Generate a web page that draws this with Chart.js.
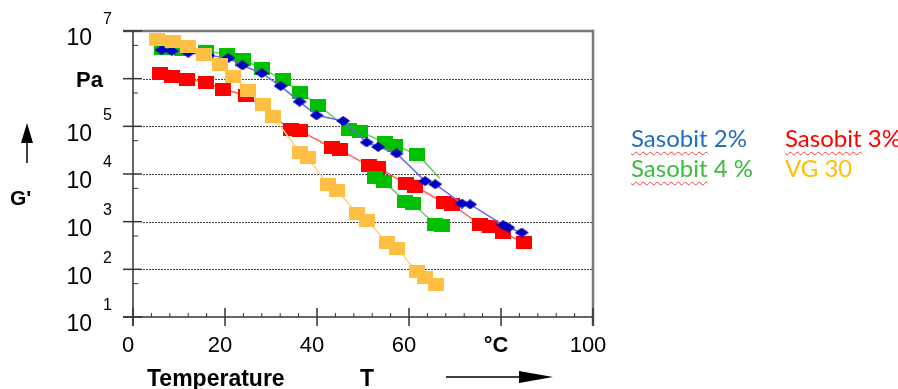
<!DOCTYPE html>
<html>
<head>
<meta charset="utf-8">
<script src="https://cdn.jsdelivr.net/npm/chart.js@4"></script>
<style>
  body { margin: 0; background: #fff; }
  #wrap { position: relative; width: 898px; height: 389px; overflow: hidden; }
  .ax { position: absolute; font-family: "Liberation Sans", Arial, sans-serif; font-weight: bold; line-height: 1; color: #000; white-space: nowrap; }
  .leg { position: absolute; font-family: Lato, "Open Sans", sans-serif; font-size: 24px; line-height: 24px; white-space: nowrap; }
  .sp { text-decoration: underline wavy #e8413c; text-decoration-thickness: 1px; text-underline-offset: 4px; text-decoration-skip-ink: none; }
</style>
</head>
<body>
<div id="wrap">
  <canvas id="chart" width="898" height="389"></canvas>
  <div class="ax" style="left:10px; top:187px; font-size:21px;">G'</div>
  <div class="ax" style="left:147px; top:367px; font-size:23px;">Temperature</div>
  <div class="ax" style="left:360px; top:367px; font-size:23px;">T</div>
  <svg style="position:absolute;left:0;top:0" width="898" height="389">
    <line x1="27" y1="163" x2="27" y2="140" stroke="#000" stroke-width="1.5"/>
    <polygon points="21,143 27,123 33,143" fill="#000"/>
    <line x1="446" y1="377" x2="522" y2="377" stroke="#000" stroke-width="1.5"/>
    <polygon points="519,371 553,377 519,383" fill="#000"/>
  </svg>
  <div class="leg" style="left:631px; top:126px; color:#1f6fc0;"><span class="sp">Sasobit</span> 2%</div>
  <div class="leg" style="left:785px; top:126px; color:#ff0000;"><span class="sp">Sasobit</span> 3%</div>
  <div class="leg" style="left:631px; top:156px; color:#3cbb3c;"><span class="sp">Sasobit</span> 4 %</div>
  <div class="leg" style="left:785px; top:156px; color:#ffc000;">VG 30</div>
</div>
<script>
// temperature (°C) and G' (Pa)
var blueT = [6.2, 8.4, 12.0, 16.3, 20.7, 23.8, 28.0, 32.1, 36.2, 39.9, 45.7, 50.8, 53.3, 57.3, 63.5, 65.7, 71.5, 73.3, 80.5, 81.6, 84.5];
var blueG = [4.0e6, 3.8e6, 3.5e6, 3.1e6, 2.7e6, 1.9e6, 1.3e6, 7.0e5, 3.3e5, 1.7e5, 1.3e5, 4.6e4, 3.7e4, 2.7e4, 7.1e3, 6.1e3, 2.4e3, 2.3e3, 850, 750, 590];

var redT = [5.9, 8.4, 11.8, 15.8, 19.6, 24.6, 34.3, 36.3, 43.2, 45.0, 51.2, 53.3, 59.3, 61.3, 67.5, 69.3, 75.4, 77.6, 80.5, 85.0];
var redG = [1.3e6, 1.1e6, 9.8e5, 8.2e5, 6.0e5, 4.5e5, 8.4e4, 8.0e4, 3.6e4, 3.2e4, 1.5e4, 1.37e4, 6.2e3, 5.6e3, 2.5e3, 2.3e3, 880, 790, 590, 360];

var greenT = [6.4, 10.7, 15.8, 20.5, 24.0, 28.1, 32.5, 36.4, 40.3, 47.0, 49.3, 54.8, 57.0, 61.8, 66.7];
var greenG = [4.3e6, 4.0e6, 3.75e6, 3.25e6, 2.5e6, 1.6e6, 9.7e5, 5.1e5, 2.8e5, 8.4e4, 7.7e4, 4.6e4, 3.9e4, 2.6e4, 8.1e3];
var green2T = [52.6, 54.6, 59.1, 60.8, 65.7, 67.1];
var green2G = [8.4e3, 6.9e3, 2.7e3, 2.4e3, 880, 820];

var vgT = [5.2, 8.8, 12.0, 15.4, 18.9, 21.8, 24.9, 28.2, 30.5, 36.3, 38.0, 42.4, 44.3, 48.7, 50.9, 55.2, 57.4, 61.7, 63.5, 65.9];
var vgG = [6.7e6, 6.0e6, 4.7e6, 3.25e6, 2.0e6, 1.1e6, 5.6e5, 2.9e5, 1.6e5, 2.8e4, 2.2e4, 5.9e3, 4.6e3, 1.5e3, 1.08e3, 360, 280, 88, 66, 49];

var xTickValues = [0, 20, 40, 60, 80, 100];
var xTickLabels = ['0', '20', '40', '60', '°C', '100'];
var yTickExps = [1, 2, 3, 4, 5, 6, 7];
var yTickLabels = ['10', '10', '10', '10', '10', 'Pa', '10'];

function pts(xs, ys) {
    return xs.map(function (v, i) { return { x: v, y: ys[i] }; });
}

function rectMark(color, w, h) {
    var c = document.createElement('canvas');
    c.width = w; c.height = h;
    var g = c.getContext('2d');
    g.fillStyle = color;
    g.fillRect(0, 0, w, h);
    return c;
}
function diamondMark(color, w, h) {
    var c = document.createElement('canvas');
    c.width = w; c.height = h;
    var g = c.getContext('2d');
    g.fillStyle = color;
    g.beginPath();
    g.moveTo(w / 2, 0); g.lineTo(w, h / 2); g.lineTo(w / 2, h); g.lineTo(0, h / 2);
    g.closePath(); g.fill();
    return c;
}

var fontTxt = '"Liberation Sans", Arial, sans-serif';

var axisDecor = {
    id: 'axisDecor',
    beforeDatasetsDraw: function (chart) {
        var ctx = chart.ctx, a = chart.chartArea, y = chart.scales.y;
        ctx.save();
        ctx.strokeStyle = '#444';
        ctx.lineWidth = 1.2;
        ctx.setLineDash([2, 1]);
        yTickExps.forEach(function (e, i) {
            if (i === 0 || i === yTickExps.length - 1) return;
            var py = Math.round(y.getPixelForValue(Math.pow(10, e))) + 0.5;
            ctx.beginPath();
            ctx.moveTo(a.left + 10, py);
            ctx.lineTo(a.right, py);
            ctx.stroke();
        });
        ctx.restore();
    },
    afterDraw: function (chart) {
        var ctx = chart.ctx, a = chart.chartArea, x = chart.scales.x, y = chart.scales.y;
        ctx.save();
        // top and right frame
        ctx.strokeStyle = '#777';
        ctx.lineWidth = 2.5;
        ctx.beginPath();
        ctx.moveTo(a.left - 10, a.top);
        ctx.lineTo(a.right, a.top);
        ctx.lineTo(a.right, a.bottom + 9);
        ctx.stroke();
        // left and bottom axes
        ctx.strokeStyle = '#333';
        ctx.lineWidth = 1.5;
        ctx.beginPath();
        ctx.moveTo(a.left, a.top);
        ctx.lineTo(a.left, a.bottom + 9);
        ctx.moveTo(a.left - 10, a.bottom);
        ctx.lineTo(a.right, a.bottom);
        ctx.stroke();
        // x ticks
        for (var v = 0; v <= 100; v += 4) {
            var px = x.getPixelForValue(v);
            var major = v % 20 === 0;
            ctx.lineWidth = major ? 1.5 : 1;
            ctx.beginPath();
            ctx.moveTo(px, a.bottom - (major ? 9 : 4));
            ctx.lineTo(px, a.bottom + (major ? 9 : 0));
            ctx.stroke();
        }
        // y ticks
        yTickExps.forEach(function (e, i) {
            var py = y.getPixelForValue(Math.pow(10, e));
            ctx.lineWidth = 1.5;
            ctx.beginPath();
            ctx.moveTo(a.left - 10, py);
            ctx.lineTo(a.left + 9, py);
            ctx.stroke();
            if (i < yTickExps.length - 1) {
                var pm = y.getPixelForValue(5 * Math.pow(10, e));
                ctx.lineWidth = 1;
                ctx.beginPath();
                ctx.moveTo(a.left, pm);
                ctx.lineTo(a.left + 5, pm);
                ctx.stroke();
            }
        });
        // y labels with superscripts
        ctx.fillStyle = '#000';
        ctx.textBaseline = 'middle';
        yTickExps.forEach(function (e, i) {
            var py = y.getPixelForValue(Math.pow(10, e));
            if (yTickLabels[i] === 'Pa') {
                ctx.font = 'bold 22px ' + fontTxt;
                ctx.textAlign = 'right';
                ctx.fillText('Pa', 103, py + 2);
                return;
            }
            ctx.font = '23px ' + fontTxt;
            ctx.textAlign = 'right';
            ctx.fillText(yTickLabels[i], 92, py + 8);
            ctx.font = '16px ' + fontTxt;
            ctx.textAlign = 'left';
            ctx.fillText(String(e), 103, py - 11);
        });
        ctx.restore();
    }
};

var ctx = document.getElementById('chart').getContext('2d');
var chart = new Chart(ctx, {
    type: 'line',
    data: {
        datasets: [{
            label: 'VG 30',
            data: pts(vgT, vgG),
            borderColor: '#ffd27a',
            pointStyle: rectMark('#ffbf45', 16, 13),
            order: 1
        }, {
            label: 'Sasobit 2%',
            data: pts(blueT, blueG),
            borderColor: '#6a6ae0',
            pointStyle: diamondMark('#0000c0', 14, 10),
            order: 2
        }, {
            label: 'Sasobit 4 %',
            data: pts(greenT, greenG),
            borderColor: '#60d060',
            pointStyle: rectMark('#00c000', 16, 13),
            pointRadius: function (c) { return c.dataIndex === greenT.length - 1 ? 0 : 8; },
            order: 3
        }, {
            label: 'Sasobit 4 % (b)',
            data: pts(green2T, green2G),
            borderColor: '#60d060',
            pointStyle: rectMark('#00c000', 16, 13),
            order: 3
        }, {
            label: 'Sasobit 3%',
            data: pts(redT, redG),
            borderColor: '#ff6060',
            pointStyle: rectMark('#ff0000', 16, 13),
            order: 4
        }]
    },
    options: {
        responsive: false,
        animation: false,
        devicePixelRatio: 1,
        layout: { padding: { left: 133, right: 305, top: 31, bottom: 32 } },
        elements: {
            line: { borderWidth: 1.5, tension: 0, fill: false },
            point: { radius: 8, hoverRadius: 8 }
        },
        plugins: {
            legend: { display: false },
            tooltip: { enabled: false }
        },
        scales: {
            x: {
                type: 'linear',
                min: 0,
                max: 100,
                afterFit: function (s) { s.height = 40; },
                afterBuildTicks: function (s) {
                    s.ticks = xTickValues.map(function (v) { return { value: v }; });
                },
                grid: { display: false, drawTicks: false },
                border: { display: false },
                ticks: {
                    padding: 16,
                    labelOffset: -5,
                    color: '#000',
                    maxRotation: 0,
                    autoSkip: false,
                    callback: function (v) { return xTickLabels[xTickValues.indexOf(v)]; },
                    font: function (c) {
                        return { family: fontTxt, size: 22, weight: (c.tick && c.tick.value === 80) ? 'bold' : 'normal' };
                    }
                }
            },
            y: {
                type: 'logarithmic',
                min: 10,
                max: 1e7,
                afterFit: function (s) { s.width = 0; },
                grid: { display: false },
                border: { display: false },
                ticks: { display: false }
            }
        }
    },
    plugins: [axisDecor]
});
</script>
</body>
</html>
